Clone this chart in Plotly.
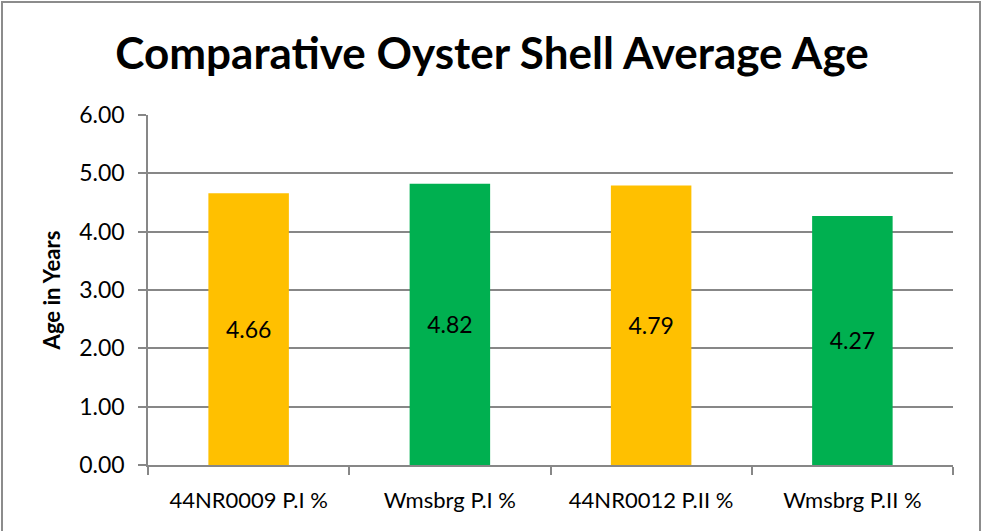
import plotly.graph_objects as go

categories = ["44NR0009 P.I %", "Wmsbrg P.I %", "44NR0012 P.II %", "Wmsbrg P.II %"]
ages = [4.66, 4.82, 4.79, 4.27]
bar_colors = ["#FFC000", "#00B050", "#FFC000", "#00B050"]
y_ticks = [0, 1, 2, 3, 4, 5, 6]

FONT = "Lato, 'Open Sans', sans-serif"
GRID = "#878787"

fig = go.Figure()
fig.add_trace(go.Bar(
    x=categories, y=ages,
    marker=dict(color=bar_colors, line=dict(width=0)),
    width=0.4,
    text=[f"{v:.2f}" for v in ages],
    textposition="inside", insidetextanchor="middle",
    textfont=dict(size=23, color="black", family=FONT),
    showlegend=False,
))

fig.update_layout(
    width=984, height=531,
    margin=dict(l=148, r=31, t=115, b=66),
    paper_bgcolor="white", plot_bgcolor="white",
    font=dict(family=FONT, color="black"),
    title=dict(
        text="<b>Comparative Oyster Shell Average Age</b>",
        font=dict(size=44, family=FONT, color="black"),
        x=0.5, xref="container", xanchor="center",
        y=1 - 54 / 531, yref="container", yanchor="middle",
    ),
    uniformtext=dict(mode=False),
)

fig.update_xaxes(
    showline=True, linecolor=GRID, linewidth=1.5,
    ticks="outside", tickson="boundaries", ticklen=8, tickcolor=GRID, tickwidth=1.5,
    tickfont=dict(size=22, family=FONT), ticklabelstandoff=15,
    showgrid=False,
)
fig.update_yaxes(
    range=[0, 6], tickvals=y_ticks, tickformat=".2f",
    showline=True, linecolor=GRID, linewidth=1.5,
    ticks="outside", ticklen=8, tickcolor=GRID, tickwidth=1.5,
    showgrid=True, gridcolor=GRID, gridwidth=1.5,
    zeroline=False,
    tickfont=dict(size=23, family=FONT), ticklabelstandoff=9,
    title=dict(text="<b>Age in Years</b>", font=dict(size=22, family=FONT), standoff=12),
)

# outer chart frame
fig.add_shape(
    type="rect", xref="paper", yref="paper",
    x0=(2 - 148) / 805, x1=(980 - 148) / 805,
    y0=(465 - 540) / 350, y1=1 + (115 - 2) / 350,
    line=dict(color="#8c8c8c", width=2), fillcolor="rgba(0,0,0,0)",
    layer="below",
)

fig.write_html(
    "out.html",
    config={"displayModeBar": False},
    post_script="document.body.style.margin='0';",
)
